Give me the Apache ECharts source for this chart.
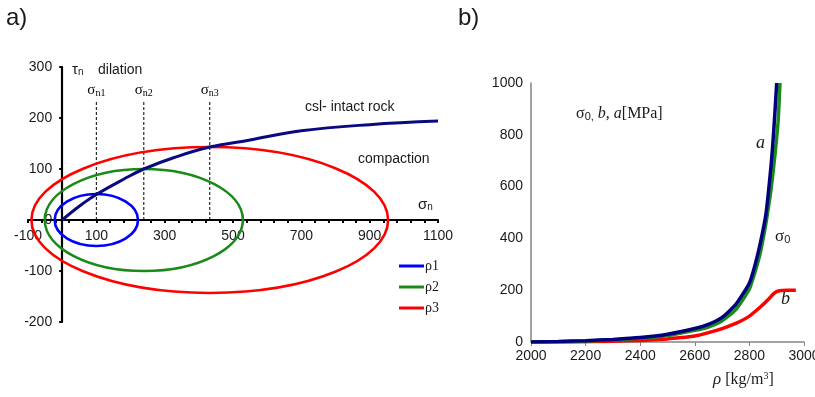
<!DOCTYPE html>
<html>
<head>
<meta charset="utf-8">
<script src="https://cdn.jsdelivr.net/npm/echarts@6/dist/echarts.min.js"></script>
<style>
  html, body { margin: 0; padding: 0; background: #fff; }
  #chart { width: 815px; height: 397px; }
</style>
</head>
<body>
<div id="chart"></div>
<script>
// ---- panel a) : stress space ----
const sigmaTicks = [-100, 100, 300, 500, 700, 900, 1100]
const tauTicks = [-200, -100, 0, 100, 200, 300]

// critical state line (intact rock)
const cslSigma = [0, 50, 100, 180, 239, 330, 432, 550, 700, 900, 1100]
const cslTau = [0, 27, 50, 80, 100, 123, 143, 157, 175, 187, 194]

// caps: [centre sigma, centre tau, half width, half height]
const capNames = ['ρ1', 'ρ2', 'ρ3']
const capColors = ['#0000ff', '#1a8a1a', '#ff0000']
const caps = [
  [100, 0, 122, 51],
  [239, 0, 290, 100],
  [432, 0, 522, 143]
]
// sigma_n1..3 markers
const snNames = ['n1', 'n2', 'n3']
const snValues = [100, 239, 432]
const snTop = 232

// ---- panel b) : parameters vs density ----
const rhoA = [2000, 2100, 2200, 2300, 2400, 2500, 2600, 2650, 2700, 2750, 2800, 2820, 2840, 2860, 2880, 2890, 2900]
const aVals = [0, 2, 5, 10, 17, 30, 52, 68, 95, 145, 228, 295, 382, 490, 690, 830, 1000]
const rhoS = [2000, 2100, 2200, 2300, 2400, 2500, 2600, 2650, 2700, 2750, 2800, 2820, 2840, 2860, 2870, 2880, 2894, 2905, 2912]
const s0Vals = [0, 1, 4, 8, 14, 25, 45, 58, 82, 125, 205, 268, 345, 455, 522, 595, 727, 850, 1000]
const rhoB = [2000, 2100, 2200, 2300, 2400, 2500, 2550, 2600, 2650, 2700, 2750, 2800, 2840, 2870, 2890, 2910, 2940, 2970]
const bVals = [0, 0, 1, 3, 6, 12, 17, 23, 36, 52, 72, 100, 135, 165, 188, 198, 200, 200]

const zip = (xs, ys) => xs.map((x, i) => [x, ys[i]])

const sans = '"Liberation Sans", Arial, sans-serif'
const serif = '"Liberation Serif", "Times New Roman", serif'
const txt = '#1a1a1a'
const plain = v => String(v)

const minorTicks = []
for (let v = -100; v <= 1100; v += 40) minorTicks.push(v)

// left panel plot box, and where its zero lines fall
const L = { left: 28, right: 377, top: 67, bottom: 75 }
const plotW = 815 - L.left - L.right
const plotH = 397 - L.top - L.bottom
const zeroX = L.left + plotW * (0 - (-100)) / 1200
const zeroY = L.top + plotH * (300 - 0) / 500

const chart = echarts.init(document.getElementById('chart'), null, { renderer: 'canvas' })

const capSeries = caps.map((c, i) => ({
  name: capNames[i],
  type: 'custom',
  xAxisIndex: 0,
  yAxisIndex: 0,
  color: capColors[i],
  encode: { x: 0, y: 1 },
  data: [c],
  clip: false,
  z: 3,
  renderItem: (params, api) => {
    const p = api.coord([api.value(0), api.value(1)])
    const s = api.size([api.value(2), api.value(3)])
    return {
      type: 'ellipse',
      shape: { cx: p[0], cy: p[1], rx: s[0], ry: s[1] },
      style: { fill: 'none', stroke: capColors[i], lineWidth: 2.6 }
    }
  }
}))

const snSeries = snValues.map(v => ({
  type: 'line',
  xAxisIndex: 0,
  yAxisIndex: 0,
  symbol: 'none',
  silent: true,
  lineStyle: { color: '#000', width: 1, type: [3, 2] },
  data: [[v, 0], [v, snTop]],
  z: 2
}))

// sigma_n labels drawn by a custom series at the top of each dashed line
const snLabels = {
  type: 'custom',
  xAxisIndex: 0,
  yAxisIndex: 0,
  silent: true,
  encode: { x: 0, y: 1 },
  data: snValues.map((v, i) => [v, snTop, i]),
  z: 5,
  renderItem: (params, api) => {
    const p = api.coord([api.value(0), api.value(1)])
    return {
      type: 'text',
      x: p[0],
      y: p[1] - 3,
      style: {
        text: '{s|σ}{sub|' + snNames[api.value(2)] + '}',
        align: 'center',
        verticalAlign: 'bottom',
        rich: {
          s: { fontFamily: serif, fontSize: 15, fill: '#000' },
          sub: { fontFamily: serif, fontSize: 10, fill: '#000', padding: [7, 0, 0, 0] }
        }
      }
    }
  }
}

const hiddenAxis = (grid, min, max) => ({ gridIndex: grid, type: 'value', min, max, show: false })

const option = {
  animation: false,
  backgroundColor: '#fff',
  grid: [
    { ...L, outerBoundsMode: 'none', containLabel: false },
    { left: 531, right: 11, top: 83, bottom: 55, outerBoundsMode: 'none', containLabel: false },
    // box whose bottom edge is tau = 0 (carries the sigma axis)
    { left: L.left, right: L.right, top: L.top, bottom: 397 - zeroY, outerBoundsMode: 'none', containLabel: false },
    // box whose left edge is sigma = 0 (carries the tau axis)
    { left: zeroX, right: L.right, top: L.top, bottom: L.bottom, outerBoundsMode: 'none', containLabel: false }
  ],
  legend: {
    data: capNames,
    orient: 'vertical',
    left: 394,
    top: 254,
    itemWidth: 25,
    itemHeight: 3,
    itemGap: 7,
    icon: 'rect',
    textStyle: { fontFamily: serif, fontSize: 14, color: txt, padding: [0, 0, 0, -4] }
  },
  xAxis: [
    hiddenAxis(0, -100, 1100),
    {
      gridIndex: 1,
      type: 'value',
      min: 2000,
      max: 3000,
      interval: 200,
      axisLine: { lineStyle: { color: '#858585', width: 1.5 } },
      axisTick: { length: 4, lineStyle: { color: '#858585' } },
      axisLabel: { color: txt, fontFamily: sans, fontSize: 14, margin: 7, formatter: plain },
      splitLine: { show: false }
    },
    {
      gridIndex: 2,
      type: 'value',
      min: -100,
      max: 1100,
      axisLine: { onZero: false, lineStyle: { color: '#000', width: 2.2 } },
      axisTick: { customValues: minorTicks, length: 3, lineStyle: { color: '#000', width: 2 } },
      axisLabel: { customValues: sigmaTicks, color: txt, fontFamily: sans, fontSize: 14, margin: 9, formatter: plain },
      splitLine: { show: false }
    },
    hiddenAxis(3, 0, 1100)
  ],
  yAxis: [
    hiddenAxis(0, -200, 300),
    {
      gridIndex: 1,
      type: 'value',
      min: 0,
      max: 1000,
      interval: 200,
      axisLine: { show: true, lineStyle: { color: '#858585', width: 1.5 } },
      axisTick: { show: false },
      axisLabel: { color: txt, fontFamily: sans, fontSize: 14, margin: 8, formatter: plain },
      splitLine: { show: false }
    },
    hiddenAxis(2, 0, 300),
    {
      gridIndex: 3,
      type: 'value',
      min: -200,
      max: 300,
      interval: 100,
      axisLine: { show: true, onZero: false, lineStyle: { color: '#000', width: 2.2 } },
      axisTick: { length: 3, lineStyle: { color: '#000', width: 2 } },
      axisLabel: { color: txt, fontFamily: sans, fontSize: 14, margin: 10, formatter: plain },
      splitLine: { show: false }
    }
  ],
  series: [
    ...snSeries,
    snLabels,
    ...capSeries,
    {
      name: 'csl',
      type: 'line',
      xAxisIndex: 0,
      yAxisIndex: 0,
      symbol: 'none',
      smooth: 0.4,
      lineStyle: { color: '#0a0a80', width: 3 },
      data: zip(cslSigma, cslTau),
      z: 4
    },
    {
      name: 'b',
      type: 'line',
      xAxisIndex: 1,
      yAxisIndex: 1,
      symbol: 'none',
      smooth: 0.2,
      lineStyle: { color: '#ff0000', width: 3.5 },
      data: zip(rhoB, bVals),
      z: 2
    },
    {
      name: 'sigma0',
      type: 'line',
      xAxisIndex: 1,
      yAxisIndex: 1,
      symbol: 'none',
      smooth: 0.2,
      lineStyle: { color: '#1a8a1a', width: 3.5 },
      data: zip(rhoS, s0Vals),
      z: 3
    },
    {
      name: 'a',
      type: 'line',
      xAxisIndex: 1,
      yAxisIndex: 1,
      symbol: 'none',
      smooth: 0.2,
      lineStyle: { color: '#000080', width: 3.5 },
      data: zip(rhoA, aVals),
      z: 4
    }
  ],
  graphic: [
    { type: 'text', left: 6, top: 6, style: { text: 'a)', font: '24px ' + sans, fill: txt } },
    { type: 'text', left: 458, top: 6, style: { text: 'b)', font: '24px ' + sans, fill: txt } },
    {
      type: 'text', left: 72, top: 62,
      style: {
        text: '{t|τ}{s|n}',
        rich: {
          t: { fontFamily: sans, fontSize: 15, fill: txt },
          s: { fontFamily: sans, fontSize: 10, fill: txt, padding: [6, 0, 0, 0] }
        }
      }
    },
    { type: 'text', left: 98, top: 63, style: { text: 'dilation', font: '14px ' + sans, fill: txt } },
    { type: 'text', left: 305, top: 100, style: { text: 'csl- intact rock', font: '14px ' + sans, fill: txt } },
    { type: 'text', left: 358, top: 152, style: { text: 'compaction', font: '14px ' + sans, fill: txt } },
    {
      type: 'text', left: 418, top: 197,
      style: {
        text: '{t|σ}{s|n}',
        rich: {
          t: { fontFamily: sans, fontSize: 15, fill: txt },
          s: { fontFamily: sans, fontSize: 10, fill: txt, padding: [6, 0, 0, 0] }
        }
      }
    },
    {
      type: 'text', left: 576, top: 106,
      style: {
        text: '{t|σ}{s|0,}{t| }{i|b}{t|, }{i|a}{t|[MPa]}',
        rich: {
          t: { fontFamily: serif, fontSize: 16, fill: txt },
          i: { fontFamily: serif, fontSize: 16, fontStyle: 'italic', fill: txt },
          s: { fontFamily: sans, fontSize: 11, fill: txt, padding: [6, 0, 0, 0] }
        }
      }
    },
    { type: 'text', left: 756, top: 134, style: { text: 'a', font: 'italic 18px ' + serif, fill: txt } },
    {
      type: 'text', left: 775, top: 228,
      style: {
        text: '{t|σ}{s|0}',
        rich: {
          t: { fontFamily: serif, fontSize: 17, fill: txt },
          s: { fontFamily: sans, fontSize: 11, fill: txt, padding: [6, 0, 0, 0] }
        }
      }
    },
    { type: 'text', left: 781, top: 290, style: { text: 'b', font: 'italic 18px ' + serif, fill: txt } },
    {
      type: 'text', left: 713, top: 371,
      style: {
        text: '{i|ρ}{t| [kg/m}{u|3}{t|]}',
        rich: {
          t: { fontFamily: serif, fontSize: 16, fill: txt },
          i: { fontFamily: serif, fontSize: 17, fontStyle: 'italic', fill: txt },
          u: { fontFamily: serif, fontSize: 10, fill: txt, padding: [0, 0, 6, 0] }
        }
      }
    }
  ]
}

chart.setOption(option)
</script>
</body>
</html>
